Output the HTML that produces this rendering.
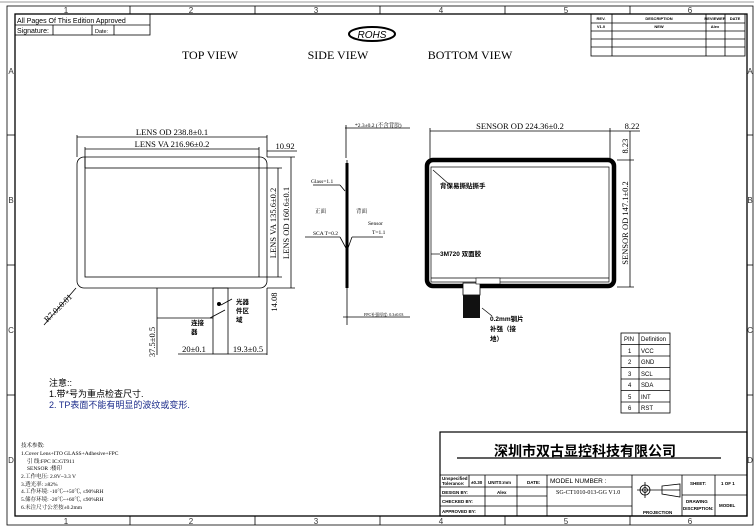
<!DOCTYPE html>
<html><head><meta charset="utf-8"><style>
html,body{margin:0;padding:0;background:#fff}
svg{display:block}
text{font-family:"Liberation Serif","Noto Serif CJK SC",serif}
.s, .s text, text.s{font-family:"Liberation Sans","Noto Sans CJK SC",sans-serif}
</style></head><body>
<svg width="754" height="531" viewBox="0 0 754 531" xmlns="http://www.w3.org/2000/svg">
<rect width="754" height="531" fill="#fff"/>
<line x1="0" y1="2" x2="754" y2="2" stroke="#ccc" stroke-width="2"/>
<rect x="7" y="6" width="746" height="519" fill="none" stroke="#000" stroke-width="0.8"/>
<rect x="15" y="14" width="732" height="502" fill="none" stroke="#000" stroke-width="1.3"/>
<g stroke="#000" stroke-width="0.8">
<line x1="130" y1="6" x2="130" y2="14"/><line x1="255" y1="6" x2="255" y2="14"/><line x1="380" y1="6" x2="380" y2="14"/><line x1="505" y1="6" x2="505" y2="14"/><line x1="630" y1="6" x2="630" y2="14"/>
<line x1="130" y1="516" x2="130" y2="525"/><line x1="255" y1="516" x2="255" y2="525"/><line x1="380" y1="516" x2="380" y2="525"/><line x1="505" y1="516" x2="505" y2="525"/><line x1="630" y1="516" x2="630" y2="525"/>
<line x1="7" y1="135" x2="15" y2="135"/><line x1="7" y1="265" x2="15" y2="265"/><line x1="7" y1="395" x2="15" y2="395"/>
<line x1="747" y1="135" x2="753" y2="135"/><line x1="747" y1="265" x2="753" y2="265"/><line x1="747" y1="395" x2="753" y2="395"/>
</g>
<g font-size="8" text-anchor="middle" fill="#333" class="s">
<text x="66" y="13">1</text><text x="191" y="13">2</text><text x="316" y="13">3</text><text x="441" y="13">4</text><text x="566" y="13">5</text><text x="690" y="13">6</text>
<text x="66" y="524">1</text><text x="191" y="524">2</text><text x="316" y="524">3</text><text x="441" y="524">4</text><text x="566" y="524">5</text><text x="690" y="524">6</text>
<text x="11" y="74">A</text><text x="11" y="203">B</text><text x="11" y="333">C</text><text x="11" y="463">D</text>
<text x="750" y="74">A</text><text x="750" y="203">B</text><text x="750" y="333">C</text><text x="750" y="463">D</text>
</g>
<g stroke="#000" stroke-width="0.8" fill="none">
<rect x="15" y="14" width="135" height="21"/><line x1="15" y1="25" x2="150" y2="25"/>
<line x1="53" y1="25" x2="53" y2="35"/><line x1="92" y1="25" x2="92" y2="35"/><line x1="114" y1="25" x2="114" y2="35"/>
</g>
<text class="s" x="17" y="23" font-size="7">All Pages Of This Edition Approved</text>
<text class="s" x="17" y="33" font-size="7">Signature:</text>
<text class="s" x="95" y="33" font-size="5.5">Date:</text>
<ellipse cx="372" cy="34" rx="23" ry="7" fill="none" stroke="#000" stroke-width="2"/>
<text class="s" x="372" y="38" font-size="10" font-style="italic" text-anchor="middle">ROHS</text>
<g font-size="12" text-anchor="middle"><text x="210" y="59">TOP VIEW</text><text x="338" y="59">SIDE VIEW</text><text x="470" y="59">BOTTOM VIEW</text></g>
<g stroke="#000" stroke-width="0.8" fill="none">
<rect x="591" y="14" width="154" height="42"/>
<line x1="591" y1="23" x2="745" y2="23"/><line x1="591" y1="31" x2="745" y2="31"/><line x1="591" y1="39" x2="745" y2="39"/><line x1="591" y1="47" x2="745" y2="47"/>
<line x1="612" y1="14" x2="612" y2="56"/><line x1="706" y1="14" x2="706" y2="56"/><line x1="725" y1="14" x2="725" y2="56"/>
</g>
<g class="s" font-size="4" text-anchor="middle" font-weight="bold"><text x="601" y="20">REV.</text><text x="659" y="20">DESCRIPTION</text><text x="715" y="20">REVIEWER</text><text x="735" y="20">DATE</text><text x="601" y="28">V1.0</text><text x="659" y="28">NEW</text><text x="715" y="28">Alex</text></g>
<g stroke="#000" fill="none" stroke-width="0.8">
<rect x="77" y="157" width="190" height="131" rx="7"/>
<rect x="85" y="168" width="174" height="109"/>
<line x1="85" y1="157" x2="85" y2="168"/><line x1="259" y1="157" x2="259" y2="168"/>
<line x1="77" y1="137" x2="267" y2="137"/><line x1="85" y1="149" x2="259" y2="149"/>
<line x1="77" y1="135" x2="77" y2="157"/><line x1="267" y1="135" x2="267" y2="157"/><line x1="85" y1="147" x2="85" y2="168"/><line x1="259" y1="147" x2="259" y2="157"/>
<line x1="267" y1="151" x2="297" y2="151"/>
<line x1="278" y1="168" x2="278" y2="277"/><line x1="291" y1="157" x2="291" y2="288"/>
<line x1="259" y1="168" x2="282" y2="168"/><line x1="259" y1="277" x2="282" y2="277"/><line x1="267" y1="157" x2="295" y2="157"/><line x1="267" y1="288" x2="295" y2="288"/>
<line x1="267" y1="288" x2="267" y2="355"/>
<rect x="213" y="288" width="15" height="66"/>
<line x1="157" y1="288" x2="157" y2="355"/><line x1="157" y1="318" x2="213" y2="318"/>
<line x1="178" y1="354" x2="213" y2="354"/><line x1="228" y1="354" x2="267" y2="354"/>
<line x1="76" y1="288" x2="44" y2="325"/>
<line x1="221" y1="305" x2="232" y2="299"/><line x1="225" y1="310" x2="210" y2="318"/>
</g>
<g font-size="8.5" text-anchor="middle">
<text x="172" y="135">LENS OD 238.8±0.1</text><text x="172" y="147">LENS VA 216.96±0.2</text>
<text x="285" y="149">10.92</text>
<text transform="translate(276,223) rotate(-90)">LENS VA 135.6±0.2</text>
<text transform="translate(289,223) rotate(-90)">LENS OD 160.6±0.1</text>
<text transform="translate(277,302) rotate(-90)">14.08</text>
<text transform="translate(155,342) rotate(-90)">37.5±0.5</text>
<text x="194" y="352">20±0.1</text><text x="248" y="352">19.3±0.5</text>
<text transform="translate(60,310) rotate(-45)">R7.0±0.01</text>
</g>
<g class="s" font-size="6.5" font-weight="bold"><text x="236" y="304">光器</text><text x="236" y="313">件区</text><text x="236" y="322">域</text><text x="191" y="325">连接</text><text x="191" y="334">器</text></g>
<circle cx="219" cy="304" r="2" fill="#000"/>
<g stroke="#000" fill="none" stroke-width="0.8">
<line x1="345" y1="128" x2="410" y2="128"/><line x1="346" y1="125" x2="346" y2="158"/>
<line x1="347" y1="160" x2="347" y2="325"/>
<line x1="347" y1="163" x2="347" y2="288" stroke-width="3"/>
<line x1="313" y1="185" x2="340" y2="185"/><line x1="340" y1="185" x2="345" y2="191"/>
<line x1="305" y1="237" x2="340" y2="237"/><line x1="340" y1="237" x2="347" y2="250"/>
<line x1="352" y1="237" x2="383" y2="237"/><line x1="352" y1="237" x2="348" y2="248"/>
<line x1="343" y1="317" x2="410" y2="317"/>
</g>
<g font-size="5.5"><text x="355" y="127">*2.3±0.2 (不含背胶)</text><text x="311" y="183">Glass=1.1</text><text x="315" y="213">正面</text><text x="356" y="213">背面</text><text x="368" y="225">Sensor</text><text x="372" y="234">T=1.1</text><text x="313" y="235">SCA T=0.2</text><text x="364" y="316" font-size="4">FPC补强厚度: 0.3±0.03</text></g>
<g stroke="#000" fill="none">
<rect x="427" y="160" width="187" height="126" rx="6" stroke-width="4.5"/>
<rect x="431" y="167" width="178" height="115" stroke-width="0.7"/>
<line x1="431" y1="278" x2="609" y2="278" stroke-width="0.7"/>
<line x1="430" y1="131" x2="610" y2="131" stroke-width="0.8"/>
<line x1="430" y1="128" x2="430" y2="160" stroke-width="0.8"/><line x1="610" y1="128" x2="610" y2="160" stroke-width="0.8"/>
<line x1="610" y1="131" x2="640" y2="131" stroke-width="0.8"/>
<line x1="617" y1="160" x2="634" y2="160" stroke-width="0.8"/><line x1="617" y1="287" x2="634" y2="287" stroke-width="0.8"/>
<line x1="630" y1="131" x2="630" y2="287" stroke-width="0.8"/>
<rect x="463" y="283" width="17" height="12" stroke-width="0.8" fill="#fff"/>
<line x1="433" y1="170" x2="450" y2="185" stroke-width="0.7"/>
<line x1="431" y1="254" x2="440" y2="254" stroke-width="0.7"/>
<line x1="482" y1="308" x2="492" y2="316" stroke-width="0.7"/>
</g>
<rect x="463" y="295" width="17" height="23" fill="#111"/>
<rect x="476" y="278" width="24" height="6" fill="#fff" stroke="#000" stroke-width="0.6"/>
<g font-size="8.5" text-anchor="middle"><text x="520" y="129">SENSOR OD 224.36±0.2</text><text x="632" y="129">8.22</text>
<text transform="translate(628,146) rotate(-90)">8.23</text>
<text transform="translate(628,223) rotate(-90)">SENSOR OD 147.1±0.2</text></g>
<g class="s" font-size="6.5" font-weight="bold"><text x="440" y="188">背保易撕贴撕手</text><text x="440" y="256">3M720 双面胶</text><text x="490" y="321">0.2mm钢片</text><text x="490" y="331">补强（接</text><text x="490" y="341">地）</text></g>
<g stroke="#000" fill="none" stroke-width="0.8">
<rect x="621" y="333" width="49" height="80"/>
<line x1="621" y1="344.5" x2="670" y2="344.5"/><line x1="621" y1="356" x2="670" y2="356"/><line x1="621" y1="367.5" x2="670" y2="367.5"/><line x1="621" y1="379" x2="670" y2="379"/><line x1="621" y1="390.5" x2="670" y2="390.5"/><line x1="621" y1="402" x2="670" y2="402"/>
<line x1="639" y1="333" x2="639" y2="413"/>
</g>
<g class="s" font-size="6"><text x="624" y="341">PIN</text><text x="641" y="341">Definition</text>
<text x="628" y="353">1</text><text x="641" y="353">VCC</text><text x="628" y="364">2</text><text x="641" y="364">GND</text><text x="628" y="376">3</text><text x="641" y="376">SCL</text><text x="628" y="387">4</text><text x="641" y="387">SDA</text><text x="628" y="399">5</text><text x="641" y="399">INT</text><text x="628" y="410">6</text><text x="641" y="410">RST</text></g>
<g class="s" font-size="9"><text x="49" y="386">注意::</text><text x="49" y="397">1.带*号为重点检查尺寸.</text><text x="49" y="408" fill="#1a2a8a">2. TP表面不能有明显的波纹或变形.</text></g>
<g font-size="5.5"><text x="21" y="447">技术参数:</text><text x="21" y="455">1.Cover Lens+ITO GLASS+Adhesive+FPC</text><text x="27" y="463">引 线:FPC IC:GT911</text><text x="27" y="470">SENSOR :楼印</text><text x="21" y="478">2.工作电压: 2.8V~3.3 V</text><text x="21" y="486">3.透光率: ≥82%</text><text x="21" y="493">4.工作环境: -10℃~+50℃, ≤90%RH</text><text x="21" y="501">5.储存环境: -20℃~+60℃, ≤90%RH</text><text x="21" y="509">6.未注尺寸公差按±0.2mm</text></g>
<g stroke="#000" fill="none" stroke-width="0.8">
<rect x="440" y="432" width="307" height="84" stroke-width="1.2"/>
<line x1="440" y1="475" x2="747" y2="475"/>
<line x1="440" y1="487" x2="632" y2="487"/><line x1="440" y1="496" x2="547" y2="496"/><line x1="440" y1="506" x2="547" y2="506"/><line x1="547" y1="506" x2="632" y2="506"/>
<line x1="682" y1="495" x2="747" y2="495"/>
<line x1="469" y1="475" x2="469" y2="487"/><line x1="485" y1="475" x2="485" y2="516"/><line x1="517" y1="475" x2="517" y2="516"/><line x1="547" y1="475" x2="547" y2="516"/><line x1="632" y1="475" x2="632" y2="516"/><line x1="682" y1="475" x2="682" y2="516"/><line x1="715" y1="475" x2="715" y2="516"/>
<line x1="457" y1="458" x2="721" y2="458" stroke-width="1.2"/>
<circle cx="645" cy="490" r="5"/><circle cx="645" cy="490" r="2.5"/><line x1="637" y1="490" x2="680" y2="490"/><line x1="645" y1="482" x2="645" y2="498"/>
<path d="M662 486 L680 484 L680 497 L662 494 Z"/>
</g>
<text class="s" x="585" y="456" font-size="14" font-weight="bold" text-anchor="middle">深圳市双古显控科技有限公司</text>
<g class="s" font-size="4.5" font-weight="bold"><text x="442" y="480">Unspecified</text><text x="442" y="485">Tolerance:</text><text x="471" y="484">±0.30</text><text x="488" y="484">UNITS:mm</text><text x="527" y="484">DATE:</text>
<text x="442" y="494">DESIGN BY:</text><text x="497" y="494">Alex</text><text x="442" y="503">CHECKED BY:</text><text x="442" y="513">APPROVED BY:</text>
<text x="643" y="514">PROJECTION</text><text x="690" y="485">SHEET:</text><text x="721" y="485">1 OF 1</text><text x="686" y="503">DRAWING</text><text x="683" y="510">DISCRIPTION:</text><text x="719" y="507">MODEL</text></g>
<text class="s" x="550" y="483" font-size="6.5">MODEL NUMBER :</text>
<text x="556" y="494" font-size="6">SG-CT1010-013-GG V1.0</text>
</svg>
</body></html>
